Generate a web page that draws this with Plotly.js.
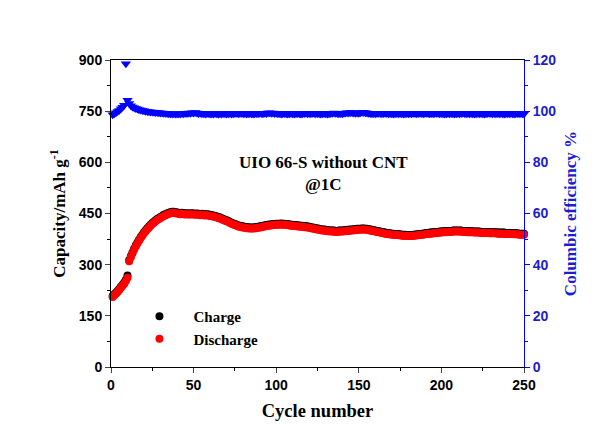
<!DOCTYPE html>
<html><head><meta charset="utf-8">
<script src="https://cdn.plot.ly/plotly-3.0.1.min.js"></script>
<style>html,body{margin:0;padding:0;background:#fff}#c{width:595px;height:429px}</style>
</head><body><div id="c"></div>
<script>
const discharge = [
205,210,215,220,226,232,238,244,252,262,
310,322,333,344,353,362,370,378,385,392,
398,404,409,414,419,423,427,431,434,437,
440,443,445,447,449,451,452,452,451,450,
449,448,449,448,447,448,447,447,448,447,
446,447,446,445,446,445,444,445,444,443,
442,441,440,438,437,435,433,431,429,427,
425,422,420,418,416,414,412,411,410,409,
408,407,407,406,406,406,407,407,408,409,
410,411,412,413,414,415,415,416,416,417,
417,417,418,417,417,416,416,415,414,414,
413,413,412,412,411,411,410,410,409,408,
407,406,405,404,403,402,401,400,400,399,
398,398,397,397,397,396,396,397,397,397,
398,398,399,399,400,400,401,401,402,402,
402,403,403,402,402,401,400,399,398,397,
396,395,394,393,392,391,390,389,389,388,
388,387,387,386,386,385,385,385,384,384,
384,384,385,385,386,386,387,388,388,389,
390,390,391,391,392,392,393,393,394,394,
395,395,395,396,396,396,397,397,397,397,
397,397,396,396,396,395,395,395,395,394,
394,394,394,393,393,393,393,393,392,392,
392,392,392,391,391,391,391,391,390,390,
390,390,390,389,389,389,388,388,388,388];
const charge = [
208,213,218,223,229,235,241,248,256,268,
313,325,336,347,356,365,373,381,388,395,
401,407,412,417,422,426,430,434,437,440,
443,446,448,450,452,454,455,455,454,453,
452,451,452,451,450,451,450,450,451,450,
449,450,449,448,449,448,447,448,447,446,
445,444,443,441,440,438,436,434,432,430,
428,425,423,421,419,417,415,414,413,412,
411,410,410,409,409,409,410,410,411,412,
413,414,415,416,417,418,418,419,419,420,
420,420,421,420,420,419,419,418,417,417,
416,416,415,415,414,414,413,413,412,411,
410,409,408,407,406,405,404,403,403,402,
401,401,400,400,400,399,399,400,400,400,
401,401,402,402,403,403,404,404,405,405,
405,406,406,405,405,404,403,402,401,400,
399,398,397,396,395,394,393,392,392,391,
391,390,390,389,389,388,388,388,387,387,
387,387,388,388,389,389,390,391,391,392,
393,393,394,394,395,395,396,396,397,397,
398,398,398,399,399,399,400,400,400,400,
400,400,399,399,399,398,398,398,398,397,
397,397,397,396,396,396,396,396,395,395,
395,395,395,394,394,394,394,394,393,393,
393,393,393,392,392,392,391,391,391,391];
const efficiency = [
98.6,99.0,99.4,99.9,100.3,100.9,101.5,102.3,118.5,104.3,
103.0,102.1,101.6,101.3,101.0,100.8,100.6,100.5,100.3,100.2,
100.0,99.9,99.8,99.7,99.7,99.6,99.5,99.5,99.4,99.3,
99.3,99.2,99.2,99.1,99.0,99.0,98.9,99.0,98.9,98.9,
99.0,98.9,99.1,99.0,99.2,99.1,99.3,99.2,99.4,99.3,
99.5,99.3,99.1,99.2,99.0,99.1,98.9,99.0,99.1,98.9,
99.0,98.9,99.1,99.0,98.8,99.0,98.9,99.1,99.0,98.9,
99.0,99.1,98.9,99.0,99.1,99.2,99.0,99.1,99.2,99.0,
99.1,98.9,99.0,99.1,99.0,98.9,99.0,99.1,99.0,99.2,
99.1,99.0,99.2,99.1,99.3,99.4,99.2,99.3,99.1,99.2,
99.0,99.1,98.9,99.0,99.1,99.0,98.9,99.0,99.1,99.0,
98.9,99.0,99.1,99.0,98.9,99.0,99.1,99.2,99.0,99.1,
99.0,99.2,99.1,99.0,99.1,99.0,98.9,99.0,99.1,99.0,
98.9,99.0,99.1,99.2,99.3,99.2,99.1,99.0,99.1,99.0,
99.2,99.3,99.4,99.3,99.5,99.4,99.3,99.2,99.3,99.2,
99.4,99.6,99.5,99.4,99.3,99.2,99.1,99.0,99.1,99.0,
99.1,99.2,99.1,99.0,99.1,99.2,99.1,99.0,99.1,99.0,
98.9,99.0,99.1,99.0,99.1,99.0,98.9,99.0,99.1,99.0,
99.1,99.0,99.2,99.1,99.0,99.1,99.2,99.1,99.0,99.1,
99.2,99.1,99.0,99.1,99.0,99.1,99.2,99.1,99.0,99.1,
99.0,98.9,99.0,99.1,99.0,99.1,99.0,98.9,99.0,99.1,
99.0,99.1,99.2,99.1,99.0,99.1,99.0,99.1,99.0,98.9,
99.0,99.1,99.0,99.1,99.0,98.9,99.0,99.1,99.2,99.1,
99.0,99.1,99.0,99.1,99.0,99.1,99.0,98.9,99.0,99.1,
99.0,99.1,99.0,98.9,99.0,99.1,99.0,99.1,99.0,98.9];
const cycles = Array.from({length: discharge.length}, (_, i) => i + 1);

const BLUE = '#0000ff';
const TXTBLUE = '#1c1cd0';
const serif = 'Liberation Serif, Times New Roman, serif';
const sans = 'Liberation Sans, Arial, sans-serif';

const traces = [
  {x: cycles, y: charge, type: 'scatter', mode: 'markers', name: '<b>Charge</b>',
   marker: {color: '#000', size: 8, symbol: 'circle'}, cliponaxis: false},
  {x: cycles, y: discharge, type: 'scatter', mode: 'markers', name: '<b>Discharge</b>',
   marker: {color: '#ff0000', size: 8, symbol: 'circle'}, cliponaxis: false},
  {x: cycles, y: efficiency, type: 'scatter', mode: 'markers', yaxis: 'y2', showlegend: false,
   marker: {color: BLUE, size: 9, symbol: 'triangle-down'}, cliponaxis: false}
];

const layout = {
  width: 595, height: 429,
  margin: {l: 111, r: 71, t: 60, b: 62},
  paper_bgcolor: '#fff', plot_bgcolor: '#fff',
  showlegend: true,
  legend: {x: 0.035, y: 0.218, xanchor: 'left', yanchor: 'top', bgcolor: 'rgba(0,0,0,0)',
           font: {family: serif, size: 15, color: '#000'}, itemwidth: 58, tracegroupgap: 0},
  xaxis: {range: [0, 250], dtick: 50, tick0: 0, ticks: 'outside', ticklen: 5, tickwidth: 1,
          showline: true, linecolor: '#000', linewidth: 1, mirror: true, showgrid: false, zeroline: false,
          minor: {dtick: 25, ticks: 'outside', ticklen: 3, tickcolor: '#000', showgrid: false},
          tickfont: {family: sans, size: 14, color: '#000', weight: 'bold'},
          title: {text: '<b>Cycle number</b>', font: {family: serif, size: 18.5, color: '#000'}, standoff: 12}},
  yaxis: {range: [0, 900], dtick: 150, tick0: 0, ticks: 'outside', ticklen: 5, tickwidth: 1,
          showline: true, linecolor: '#000', linewidth: 1, showgrid: false, zeroline: false,
          minor: {dtick: 75, ticks: 'outside', ticklen: 3, tickcolor: '#000', showgrid: false},
          tickfont: {family: sans, size: 14, color: '#000', weight: 'bold'},
          title: {text: '<b>Capacity/mAh g<sup>-1</sup></b>', font: {family: serif, size: 17, color: '#000'}, standoff: 8}},
  yaxis2: {range: [0, 120], dtick: 20, tick0: 0, overlaying: 'y', side: 'right', ticks: 'outside', ticklen: 5,
           showline: true, linecolor: BLUE, linewidth: 1, tickcolor: BLUE, showgrid: false, zeroline: false,
           minor: {dtick: 10, ticks: 'outside', ticklen: 3, tickcolor: BLUE, showgrid: false},
           tickfont: {family: sans, size: 14, color: TXTBLUE, weight: 'bold'},
           title: {text: '<b>Columbic efficiency %</b>', font: {family: serif, size: 17, color: TXTBLUE}, standoff: 8}},
  annotations: [
    {xref: 'paper', yref: 'paper', x: 0.515, y: 0.63, showarrow: false, xanchor: 'center',
     text: '<b>UIO 66-S without CNT</b><br><b>@1C</b>', align: 'center',
     font: {family: serif, size: 17, color: '#000'}}
  ]
};

Plotly.newPlot('c', traces, layout, {displayModeBar: false, staticPlot: true});
</script>
</body></html>
